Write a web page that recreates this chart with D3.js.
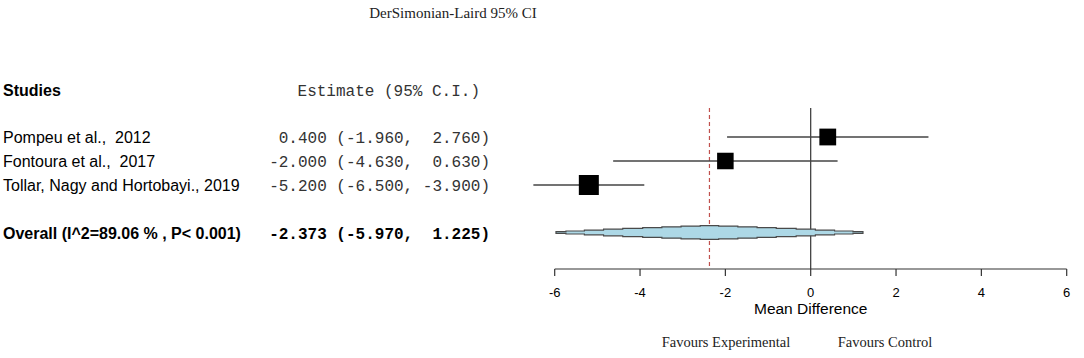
<!DOCTYPE html>
<html>
<head>
<meta charset="utf-8">
<script src="https://cdn.jsdelivr.net/npm/d3@7"></script>
<style>
  body { margin: 0; background: #fff; }
  svg { display: block; }
  text { white-space: pre; }
</style>
</head>
<body>
<svg id="plot" width="1084" height="358"></svg>
<script>
////////////////////////////////////////////////////////////////
// Forest plot, DerSimonian-Laird random effects

let studies   = ["Pompeu et al.,  2012", "Fontoura et al.,  2017", "Tollar, Nagy and Hortobayi., 2019"]
let estimates = [0.400, -2.000, -5.200]
let lower     = [-1.960, -4.630, -6.500]
let upper     = [2.760, 0.630, -3.900]
let weights   = [29.5, 28.6, 41.9]

let overallLabel = "Overall (I^2=89.06 % , P< 0.001)"
let overall = [-2.373, -5.970, 1.225]

let xTicks = [-6, -4, -2, 0, 2, 4, 6]

let title = "DerSimonian-Laird 95% CI"
let xLabel = "Mean Difference"
let favours = ["Favours Experimental", "Favours Control"]

let svg = d3.select("#plot")

// setup scales
let xScale = d3.scaleLinear()
  .domain([-6, 6])
  .range([554.7, 1066.7])

let rowY = d3.scalePoint()
  .domain(d3.range(studies.length))
  .range([137, 185])

let overallY = 232.5
let axisY = 269

let sizeScale = d3.scaleSqrt()
  .domain([0, d3.max(weights)])
  .range([0, 20])

let sans = "'Liberation Sans', Arial, sans-serif"
let serif = "'Liberation Serif', 'Times New Roman', serif"
let mono = "'Liberation Mono', 'Courier New', monospace"

// number formatting like R: fixed 3 decimals, padded to width 6
function pad(v) {
  let s = v.toFixed(3)
  while (s.length < 6) s = " " + s
  return s
}
function ciText(e, l, u) {
  return pad(e) + " (" + pad(l) + ", " + pad(u) + ")"
}

////////////////////////////////////////////////////////////////
// title + headers

svg.append("text")
  .attr("x", 453).attr("y", 18)
  .attr("text-anchor", "middle")
  .attr("font-family", serif).attr("font-size", 15)
  .attr("fill", "#222")
  .text(title)

svg.append("text")
  .attr("x", 3).attr("y", 96)
  .attr("font-family", sans).attr("font-size", 16).attr("font-weight", "bold")
  .text("Studies")

svg.append("text")
  .attr("x", 480).attr("y", 96)
  .attr("text-anchor", "end")
  .attr("font-family", mono).attr("font-size", 16)
  .attr("fill", "#333")
  .text("Estimate (95% C.I.)")

////////////////////////////////////////////////////////////////
// study rows

let rows = studies.map((s, i) => ({
  name: s, est: estimates[i], lo: lower[i], hi: upper[i], w: weights[i], i: i
}))

svg.selectAll("text.name")
  .data(rows).enter()
  .append("text")
  .attr("class", "name")
  .attr("x", 3).attr("y", d => rowY(d.i) + 6)
  .attr("font-family", sans).attr("font-size", 16)
  .text(d => d.name)

svg.selectAll("text.ci")
  .data(rows).enter()
  .append("text")
  .attr("class", "ci")
  .attr("x", 490).attr("y", d => rowY(d.i) + 6)
  .attr("text-anchor", "end")
  .attr("font-family", mono).attr("font-size", 16)
  .attr("fill", "#333")
  .text(d => ciText(d.est, d.lo, d.hi))

svg.append("text")
  .attr("x", 3).attr("y", overallY + 6)
  .attr("font-family", sans).attr("font-size", 16).attr("font-weight", "bold")
  .text(overallLabel)

svg.append("text")
  .attr("x", 490).attr("y", overallY + 6)
  .attr("text-anchor", "end")
  .attr("font-family", mono).attr("font-size", 16).attr("font-weight", "bold")
  .text(ciText(overall[0], overall[1], overall[2]))

////////////////////////////////////////////////////////////////
// reference lines

svg.append("line")
  .attr("x1", xScale(0)).attr("x2", xScale(0))
  .attr("y1", 108).attr("y2", axisY)
  .attr("stroke", "#333").attr("stroke-width", 1.2)

svg.append("line")
  .attr("x1", xScale(overall[0])).attr("x2", xScale(overall[0]))
  .attr("y1", 108).attr("y2", axisY)
  .attr("stroke", "#c0504d").attr("stroke-width", 1.2)
  .attr("stroke-dasharray", "4,3")

////////////////////////////////////////////////////////////////
// CI lines and squares

svg.selectAll("line.ci")
  .data(rows).enter()
  .append("line")
  .attr("class", "ci")
  .attr("x1", d => xScale(d.lo)).attr("x2", d => xScale(d.hi))
  .attr("y1", d => rowY(d.i)).attr("y2", d => rowY(d.i))
  .attr("stroke", "#444").attr("stroke-width", 1.6)

svg.selectAll("rect.box")
  .data(rows).enter()
  .append("rect")
  .attr("class", "box")
  .attr("x", d => xScale(d.est) - sizeScale(d.w) / 2)
  .attr("y", d => rowY(d.i) - sizeScale(d.w) / 2)
  .attr("width", d => sizeScale(d.w))
  .attr("height", d => sizeScale(d.w))
  .attr("fill", "black")

////////////////////////////////////////////////////////////////
// overall: stepped diamond

let cx = xScale(overall[0])
let hwL = cx - xScale(overall[1])
let hwR = xScale(overall[2]) - cx
let fr = [1, 0.935, 0.815, 0.69, 0.565, 0.435, 0.31, 0.185, 0.06]
let hh = [0.8, 1.5, 2.3, 3.3, 4.1, 4.9, 5.7, 6.4, 6.9]

let leftEdge = []
fr.forEach((f, k) => {
  leftEdge.push([cx - hwL * f, overallY - hh[k]])
  let nf = k < fr.length - 1 ? fr[k + 1] : 0
  leftEdge.push([cx - hwL * nf, overallY - hh[k]])
})
let rightEdge = []
fr.slice().reverse().forEach((f, j) => {
  let k = fr.length - 1 - j
  let pf = k < fr.length - 1 ? fr[k + 1] : 0
  rightEdge.push([cx + hwR * pf, overallY - hh[k]])
  rightEdge.push([cx + hwR * f, overallY - hh[k]])
})
let upperEdge = leftEdge.concat(rightEdge)
let lowerEdge = upperEdge.slice().reverse().map(p => [p[0], 2 * overallY - p[1]])

svg.append("path")
  .attr("d", d3.line()(upperEdge.concat(lowerEdge)) + "Z")
  .attr("fill", "#add8e6")
  .attr("stroke", "#4a4a4a")
  .attr("stroke-width", 1.2)

////////////////////////////////////////////////////////////////
// x axis

svg.append("line")
  .attr("x1", xScale(-6)).attr("x2", xScale(6))
  .attr("y1", axisY).attr("y2", axisY)
  .attr("stroke", "#333").attr("stroke-width", 1.2)

svg.selectAll("line.tick")
  .data(xTicks).enter()
  .append("line")
  .attr("class", "tick")
  .attr("x1", d => xScale(d)).attr("x2", d => xScale(d))
  .attr("y1", axisY).attr("y2", axisY + 7)
  .attr("stroke", "#333").attr("stroke-width", 1.2)

svg.selectAll("text.tick")
  .data(xTicks).enter()
  .append("text")
  .attr("class", "tick")
  .attr("x", d => xScale(d)).attr("y", 297)
  .attr("text-anchor", "middle")
  .attr("font-family", sans).attr("font-size", 13)
  .text(d => d)

svg.append("text")
  .attr("x", xScale(0)).attr("y", 314)
  .attr("text-anchor", "middle")
  .attr("font-family", sans).attr("font-size", 15.5)
  .text(xLabel)

svg.append("text")
  .attr("x", 726).attr("y", 347)
  .attr("text-anchor", "middle")
  .attr("font-family", serif).attr("font-size", 14.5)
  .attr("fill", "#222")
  .text(favours[0])

svg.append("text")
  .attr("x", 885).attr("y", 347)
  .attr("text-anchor", "middle")
  .attr("font-family", serif).attr("font-size", 14.5)
  .attr("fill", "#222")
  .text(favours[1])
</script>
</body>
</html>
